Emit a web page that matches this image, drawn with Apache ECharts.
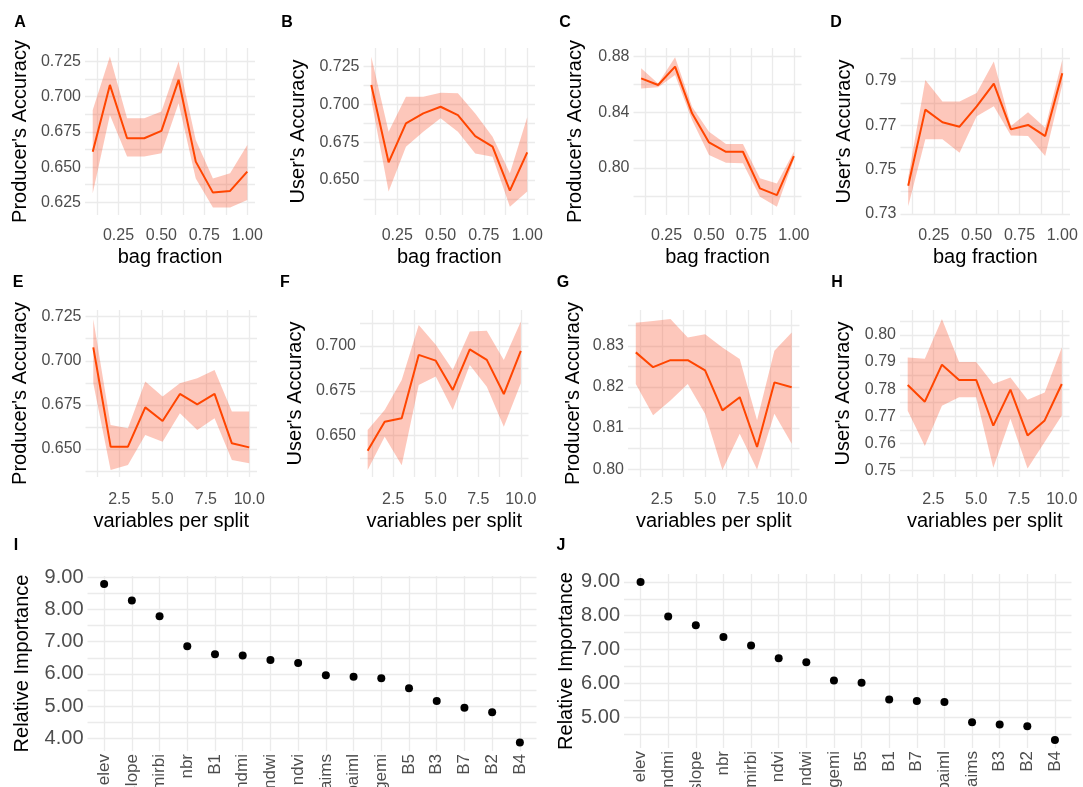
<!DOCTYPE html>
<html>
<head>
<meta charset="utf-8">
<script src="https://cdn.jsdelivr.net/npm/echarts@6/dist/echarts.min.js"></script>
<style>
  html, body { margin: 0; padding: 0; background: #fff; }
  #chart { width: 1083px; height: 787px; }
</style>
</head>
<body>
<div id="chart"></div>
<script>
// ---- x values ----
const bagFraction = [0.1, 0.2, 0.3, 0.4, 0.5, 0.6, 0.7, 0.8, 0.9, 1.0];
const varsPerSplit = [1, 2, 3, 4, 5, 6, 7, 8, 9, 10];
const bagTicks = [0.25, 0.5, 0.75, 1.0];
const splitTicks = [2.5, 5, 7.5, 10];

// ---- A: producer's accuracy vs bag fraction ----
const aMean = [0.661, 0.7084, 0.6705, 0.6705, 0.6757, 0.712, 0.6539, 0.6319, 0.6331, 0.6468];
const aLow  = [0.6314, 0.6871, 0.6575, 0.6575, 0.6598, 0.6954, 0.642, 0.6214, 0.6214, 0.6267];
const aHigh = [0.6906, 0.7286, 0.6847, 0.6847, 0.6895, 0.725, 0.6693, 0.642, 0.6456, 0.6658];
const aTicks = [0.625, 0.65, 0.675, 0.7, 0.725];

// ---- B: user's accuracy vs bag fraction ----
const bMean = [0.7129, 0.6617, 0.6875, 0.6941, 0.6985, 0.693, 0.6791, 0.6721, 0.6429, 0.6683];
const bLow  = [0.703, 0.6423, 0.672, 0.682, 0.6908, 0.682, 0.6676, 0.6654, 0.6323, 0.6423];
const bHigh = [0.7316, 0.682, 0.7051, 0.7051, 0.7078, 0.7074, 0.6941, 0.6787, 0.6544, 0.6915];
const bTicks = [0.65, 0.675, 0.7, 0.725];

// ---- C ----
const cMean = [0.8644, 0.8596, 0.8728, 0.8393, 0.8184, 0.8117, 0.8117, 0.7854, 0.7806, 0.8086];
const cLow  = [0.8572, 0.858, 0.8668, 0.8345, 0.8093, 0.8038, 0.8034, 0.7794, 0.7722, 0.8062];
const cHigh = [0.8716, 0.8608, 0.8795, 0.8441, 0.8261, 0.8172, 0.8172, 0.7926, 0.789, 0.8117];
const cTicks = [0.80, 0.84, 0.88];

// ---- D ----
const dMean = [0.7427, 0.777, 0.7713, 0.7693, 0.7785, 0.7887, 0.7681, 0.7701, 0.7651, 0.7934];
const dLow  = [0.7334, 0.7636, 0.7636, 0.7576, 0.774, 0.7785, 0.7654, 0.7651, 0.7561, 0.7882];
const dHigh = [0.7464, 0.7904, 0.7807, 0.7807, 0.7845, 0.7987, 0.7696, 0.7758, 0.7688, 0.7994];
const dTicks = [0.73, 0.75, 0.77, 0.79];

// ---- E ----
const eMean = [0.7076, 0.6513, 0.6513, 0.6736, 0.6659, 0.6812, 0.6753, 0.6812, 0.6532, 0.6509];
const eLow  = [0.6872, 0.6381, 0.6409, 0.6579, 0.6541, 0.6702, 0.6608, 0.6674, 0.6438, 0.6419];
const eHigh = [0.7235, 0.6636, 0.6617, 0.6882, 0.6797, 0.6872, 0.6901, 0.6948, 0.6712, 0.6712];
const eTicks = [0.65, 0.675, 0.7, 0.725];

// ---- F ----
const fMean = [0.6416, 0.6578, 0.6597, 0.695, 0.6918, 0.6755, 0.6981, 0.6922, 0.6732, 0.6972];
const fLow  = [0.6309, 0.6494, 0.6336, 0.6783, 0.6829, 0.6643, 0.6894, 0.6773, 0.655, 0.6792];
const fHigh = [0.6532, 0.6643, 0.681, 0.7117, 0.7006, 0.6866, 0.708, 0.7084, 0.6922, 0.7136];
const fTicks = [0.65, 0.675, 0.7];

// ---- G ----
const gMean = [0.8284, 0.8248, 0.8265, 0.8265, 0.824, 0.8143, 0.8175, 0.8054, 0.8211, 0.8199];
const gLow  = [0.8207, 0.8131, 0.8167, 0.8207, 0.8135, 0.7998, 0.8086, 0.7999, 0.8135, 0.8062];
const gHigh = [0.8356, 0.836, 0.8365, 0.832, 0.8328, 0.8296, 0.8268, 0.8119, 0.8288, 0.8332];
const gTicks = [0.80, 0.81, 0.82, 0.83];

// ---- H ----
const hMean = [0.7815, 0.7754, 0.789, 0.7834, 0.7834, 0.7666, 0.7798, 0.763, 0.7685, 0.7819];
const hLow  = [0.7721, 0.7591, 0.7739, 0.777, 0.777, 0.7511, 0.7691, 0.7508, 0.7606, 0.7703];
const hHigh = [0.7916, 0.7912, 0.8058, 0.79, 0.79, 0.7819, 0.7843, 0.7761, 0.7788, 0.7953];
const hTicks = [0.75, 0.76, 0.77, 0.78, 0.79, 0.80];

// ---- I / J: relative importance ----
const iVars = ['elev', 'slope', 'mirbi', 'nbr', 'B1', 'ndmi', 'ndwi', 'ndvi', 'aims', 'paiml', 'gemi', 'B5', 'B3', 'B7', 'B2', 'B4'];
const iImportance = [8.79, 8.28, 7.79, 6.86, 6.61, 6.57, 6.43, 6.34, 5.96, 5.91, 5.87, 5.56, 5.16, 4.95, 4.81, 3.87];
const iTicks = [4, 5, 6, 7, 8, 9];

const jVars = ['elev', 'ndmi', 'slope', 'nbr', 'mirbi', 'ndvi', 'ndwi', 'gemi', 'B5', 'B1', 'B7', 'paiml', 'aims', 'B3', 'B2', 'B4'];
const jImportance = [9.0, 7.98, 7.72, 7.37, 7.12, 6.74, 6.62, 6.08, 6.02, 5.52, 5.48, 5.45, 4.85, 4.78, 4.73, 4.32];
const jTicks = [5, 6, 7, 8, 9];

const FONT = 'Liberation Sans, Arial, sans-serif';
const GRID_COLOR = '#EBEBEB';
const TICK_COLOR = '#4D4D4D';
const BAND_COLOR = 'rgba(250, 70, 30, 0.3)';

// minor grid lines sit halfway between major ones (ggplot style)
function halfSteps(ticks, lo, hi) {
  const step = ticks[1] - ticks[0];
  const out = [];
  for (let v = ticks[0] - step / 2; v <= hi + 1e-9; v += step) {
    if (v >= lo - 1e-9) out.push(+v.toFixed(6));
  }
  return out;
}

// layout for the ribbon panels
const bandPanels = [
  { letter: 'A', lx: 20, ly: 23, x: bagFraction, mean: aMean, lo: aLow, hi: aHigh, yTicks: aTicks, yDig: 3,
    left: 85, top: 48, width: 170, height: 167, yMin: 0.616, yMax: 0.7346, yName: "Producer's Accuracy", yGap: 55 },
  { letter: 'B', lx: 287, ly: 23, x: bagFraction, mean: bMean, lo: bLow, hi: bHigh, yTicks: bTicks, yDig: 3,
    left: 363.5, top: 48, width: 171.5, height: 167, yMin: 0.6268, yMax: 0.7374, yName: "User's Accuracy", yGap: 55 },
  { letter: 'C', lx: 565, ly: 23, x: bagFraction, mean: cMean, lo: cLow, hi: cHigh, yTicks: cTicks, yDig: 2,
    left: 633.5, top: 48, width: 168, height: 167, yMin: 0.7663, yMax: 0.8862, yName: "Producer's Accuracy", yGap: 48 },
  { letter: 'D', lx: 836, ly: 23, x: bagFraction, mean: dMean, lo: dLow, hi: dHigh, yTicks: dTicks, yDig: 2,
    left: 900.5, top: 48, width: 169.5, height: 167, yMin: 0.7295, yMax: 0.8048, yName: "User's Accuracy", yGap: 46 },
  { letter: 'E', lx: 18, ly: 283, x: varsPerSplit, mean: eMean, lo: eLow, hi: eHigh, yTicks: eTicks, yDig: 3,
    left: 85.5, top: 310, width: 171.5, height: 167, yMin: 0.6341, yMax: 0.7288, yName: "Producer's Accuracy", yGap: 55 },
  { letter: 'F', lx: 285, ly: 283, x: varsPerSplit, mean: fMean, lo: fLow, hi: fHigh, yTicks: fTicks, yDig: 3,
    left: 360, top: 310, width: 168.5, height: 167, yMin: 0.627, yMax: 0.72, yName: "User's Accuracy", yGap: 55 },
  { letter: 'G', lx: 563, ly: 283, x: varsPerSplit, mean: gMean, lo: gLow, hi: gHigh, yTicks: gTicks, yDig: 2,
    left: 628, top: 310, width: 171.5, height: 167, yMin: 0.7981, yMax: 0.8387, yName: "Producer's Accuracy", yGap: 45 },
  { letter: 'H', lx: 837, ly: 283, x: varsPerSplit, mean: hMean, lo: hLow, hi: hHigh, yTicks: hTicks, yDig: 2,
    left: 900, top: 310, width: 169.5, height: 167, yMin: 0.7477, yMax: 0.8091, yName: "User's Accuracy", yGap: 47 }
];

const dotPanels = [
  { letter: 'I', lx: 16, ly: 546, cats: iVars, vals: iImportance, yTicks: iTicks,
    left: 87.5, top: 576, width: 449, height: 175, yMin: 3.61, yMax: 9.04, yGap: 55 },
  { letter: 'J', lx: 561, ly: 546, cats: jVars, vals: jImportance, yTicks: jTicks,
    left: 624, top: 574, width: 447.5, height: 174, yMin: 4.086, yMax: 9.234, yGap: 48 }
];

const grids = [], xAxes = [], yAxes = [], series = [], letters = [];

function yAxisFor(idx, p, ticks, digits, name, fontSize) {
  return {
    type: 'value', gridIndex: idx, min: p.yMin, max: p.yMax,
    axisLine: { show: false }, axisTick: { show: false, customValues: ticks.concat(halfSteps(ticks, p.yMin, p.yMax)) },
    axisLabel: { customValues: ticks, formatter: v => v.toFixed(digits), color: TICK_COLOR, fontSize: fontSize, fontFamily: FONT, margin: 4 },
    splitLine: { show: true, lineStyle: { color: GRID_COLOR, width: 1.3 } },
    name: name, nameLocation: 'middle', nameRotate: 90, nameGap: p.yGap,
    nameTextStyle: { color: '#000', fontSize: 20, fontFamily: FONT }
  };
}

bandPanels.forEach((p, idx) => {
  const isBag = p.x === bagFraction;
  const xTicks = isBag ? bagTicks : splitTicks;
  const xMin = isBag ? 0.055 : 0.55, xMax = isBag ? 1.045 : 10.45;
  const rowTop = p.top < 200;
  grids.push({ left: p.left, top: p.top, width: p.width, height: p.height, containLabel: false, outerBoundsMode: 'none' });
  xAxes.push({
    type: 'value', gridIndex: idx, min: xMin, max: xMax,
    axisLine: { show: false, onZero: false },
    axisTick: { show: false, customValues: xTicks.concat(halfSteps(xTicks, xMin, xMax)) },
    axisLabel: { customValues: xTicks, formatter: v => v.toFixed(isBag ? 2 : 1), color: TICK_COLOR, fontSize: 16, fontFamily: FONT, margin: rowTop ? 13 : 15 },
    splitLine: { show: true, lineStyle: { color: GRID_COLOR, width: 1.3 } },
    name: isBag ? 'bag fraction' : 'variables per split', nameLocation: 'middle', nameGap: rowTop ? 32 : 34,
    nameTextStyle: { color: '#000', fontSize: 20, fontFamily: FONT }
  });
  yAxes.push(yAxisFor(idx, p, p.yTicks, p.yDig, p.yName, 16));

  // ribbon: one polygon, upper edge forward then lower edge back
  series.push({
    type: 'custom', xAxisIndex: idx, yAxisIndex: idx, silent: true,
    data: p.x.map((x, i) => [x, p.lo[i], p.hi[i]]),
    encode: { x: 0, y: [1, 2] },
    renderItem: function (params, api) {
      if (params.dataIndex !== 0) return null;
      const upper = p.x.map((x, i) => api.coord([x, p.hi[i]]));
      const lower = p.x.map((x, i) => api.coord([x, p.lo[i]])).reverse();
      return { type: 'polygon', shape: { points: upper.concat(lower) }, style: { fill: BAND_COLOR } };
    }
  });
  series.push({
    type: 'line', xAxisIndex: idx, yAxisIndex: idx, symbol: 'none', z: 3,
    lineStyle: { color: '#FF4500', width: 2 }, data: p.x.map((x, i) => [x, p.mean[i]])
  });
  letters.push(p);
});

dotPanels.forEach((p, k) => {
  const idx = bandPanels.length + k;
  const pos = p.cats.map((c, i) => i);
  grids.push({ left: p.left, top: p.top, width: p.width, height: p.height, containLabel: false, outerBoundsMode: 'none' });
  xAxes.push({
    type: 'value', gridIndex: idx, min: -0.6, max: p.cats.length - 0.4,
    axisLine: { show: false, onZero: false },
    axisTick: { show: false, customValues: pos },
    axisLabel: { customValues: pos, formatter: v => p.cats[Math.round(v)], rotate: 90, color: TICK_COLOR, fontSize: 17, fontFamily: FONT, margin: 3 },
    splitLine: { show: true, lineStyle: { color: GRID_COLOR, width: 1.3 } }
  });
  yAxes.push(yAxisFor(idx, p, p.yTicks, 2, 'Relative Importance', 20));
  series.push({
    type: 'scatter', xAxisIndex: idx, yAxisIndex: idx, symbolSize: 8,
    itemStyle: { color: '#000', opacity: 1 }, data: p.vals.map((v, i) => [i, v])
  });
  letters.push(p);
});

const chart = echarts.init(document.getElementById('chart'), null, { renderer: 'canvas' });
chart.setOption({
  backgroundColor: '#fff',
  animation: false,
  textStyle: { fontFamily: FONT },
  grid: grids,
  xAxis: xAxes,
  yAxis: yAxes,
  series: series,
  graphic: letters.map(p => ({
    type: 'text', x: p.lx, y: p.ly,
    style: { text: p.letter, fill: '#000', font: 'bold 16px ' + FONT, align: 'center', verticalAlign: 'middle' }
  }))
});
</script>
</body>
</html>
